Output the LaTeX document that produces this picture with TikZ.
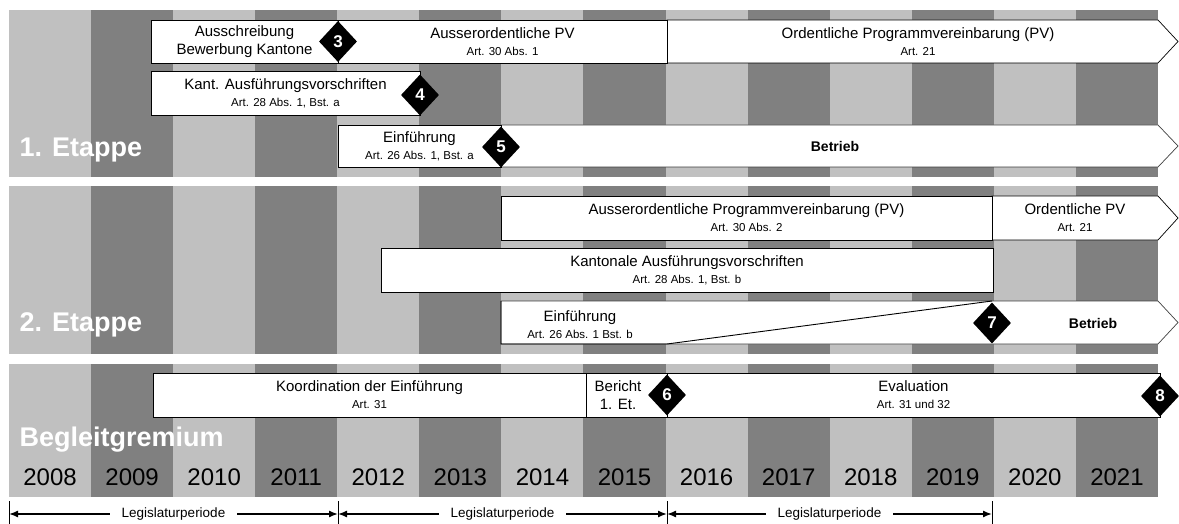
\documentclass[tikz,border=0pt]{standalone}
\usepackage{fontspec}
\setmainfont{Liberation Sans}
\usetikzlibrary{shapes.geometric,arrows.meta}

\definecolor{lightbar}{HTML}{C0C0C0}
\definecolor{darkbar}{HTML}{808080}
\newcommand\artref[1]{\\[-1pt]{\fontsize{11.5}{13}\selectfont #1}}

\tikzset{
  bar/.style={draw, fill=white, line width=0.9pt, inner sep=0pt, outer sep=0pt,
    minimum height=43pt, align=center, font=\fontsize{15}{18}\selectfont},
  flow/.style={draw=black!75, fill=white, line width=0.7pt},
  flowtext/.style={align=center, font=\fontsize{15}{18}\selectfont},
  marker/.style={diamond, fill=black, text=white, inner sep=0pt,
    minimum width=38pt, minimum height=41pt, font=\bfseries\fontsize{17}{17}\selectfont},
  stage/.style={anchor=west, text=white, font=\bfseries\fontsize{27}{27}\selectfont},
  year/.style={font=\fontsize{24}{24}\selectfont},
  period/.style={{Latex[length=9pt,width=7pt]}-{Latex[length=9pt,width=7pt]}, line width=1.4pt},
  plabel/.style={fill=white, inner xsep=12pt, inner ysep=1pt, font=\fontsize{13.5}{15}\selectfont}
}

\begin{document}
\begin{tikzpicture}[x=1pt,y=-1pt]
  \useasboundingbox (0,0) rectangle (1179,524);

  % year columns
  \foreach \yr [count=\i from 0] in {2008,...,2021}{
    \ifodd\i \def\colbar{darkbar}\else\def\colbar{lightbar}\fi
    \fill[\colbar] (9+82.07*\i,10) rectangle ++(82.07,487);
    \node[year] (y\yr) at (50.04+82.07*\i,477) {\yr};
  }
  \fill[white] (0,177) rectangle (1179,186);
  \fill[white] (0,354) rectangle (1179,364);

  % 1. Etappe
  \draw[flow, draw=black] (667,20) -- (1158,20) -- (1178,41.5) -- (1158,63) -- (667,63) -- cycle;
  \node[flowtext] (ordpv1) at (918,41.5) {Ordentliche Programmvereinbarung (PV)\artref{Art. 21}};
  \node[bar, minimum width=329pt] (auspv1) at (502.5,41.5) {Ausserordentliche PV\artref{Art. 30 Abs. 1}};
  \node[bar, minimum width=187pt] (ausschr) at (244.5,41.5) {Ausschreibung\\Bewerbung Kantone};
  \node[bar, minimum width=269pt, minimum height=44pt] (kant1) at (285.5,93) {Kant. Ausführungsvorschriften\artref{Art. 28 Abs. 1, Bst. a}};
  \draw[flow] (501,125) -- (1158,125) -- (1178,146) -- (1158,167) -- (501,167) -- cycle;
  \node[flowtext, font=\bfseries\fontsize{14}{17}\selectfont] (betr1) at (835,146) {Betrieb};
  \node[bar, minimum width=163pt, minimum height=42pt] (einf1) at (419.5,146) {Einführung\artref{Art. 26 Abs. 1, Bst. a}};
  \node[stage] (et1) at (16,150) {1. Etappe};

  % 2. Etappe
  \draw[flow, draw=black] (992,196) -- (1158,196) -- (1178,218) -- (1158,240) -- (992,240) -- cycle;
  \node[flowtext] (ordpv2) at (1075,218) {Ordentliche PV\artref{Art. 21}};
  \node[bar, minimum width=491pt, minimum height=44pt] (auspv2) at (746.5,218) {Ausserordentliche Programmvereinbarung (PV)\artref{Art. 30 Abs. 2}};
  \node[bar, minimum width=612pt, minimum height=44pt] (kant2) at (687,270) {Kantonale Ausführungsvorschriften\artref{Art. 28 Abs. 1, Bst. b}};
  \draw[flow] (501,301) -- (1158,301) -- (1178,322.5) -- (1158,344) -- (501,344) -- cycle;
  \draw[line width=0.9pt] (501,301) -- (501,344) -- (667,344) -- (992,301);
  \node[flowtext] (einf2) at (580,325) {Einführung\artref{Art. 26 Abs. 1 Bst. b}};
  \node[flowtext, font=\bfseries\fontsize{14}{17}\selectfont] (betr2) at (1093,323) {Betrieb};
  \node[stage] (et2) at (16,325) {2. Etappe};

  % Begleitgremium
  \node[bar, minimum width=433pt, minimum height=44pt] (koord) at (369.5,395) {Koordination der Einführung\artref{Art. 31}};
  \node[bar, minimum width=81pt, minimum height=44pt] (bericht) at (626.5,395) {};
  \node[flowtext] (berichttext) at (618,395) {Bericht\\1. Et.};
  \node[bar, minimum width=493pt, minimum height=44pt] (eval) at (913.5,395) {Evaluation\artref{Art. 31 und 32}};
  \node[stage] (bg) at (16,440) {Begleitgremium};

  % milestones
  \node[marker] (m3) at (338,41.5) {3};
  \node[marker] (m4) at (420,95) {4};
  \node[marker] (m5) at (501,147) {5};
  \node[marker] (m6) at (667,395) {6};
  \node[marker] (m7) at (992,323) {7};
  \node[marker] (m8) at (1160,396) {8};

  % Legislaturperioden
  \coordinate (l0) at (9,514);
  \coordinate (l1) at (338,514);
  \coordinate (l2) at (667,514);
  \coordinate (l3) at (992,514);
  \foreach \c in {l0,l1,l2,l3}
    \draw[line width=0.9pt] ([yshift=13pt]\c) -- ([yshift=-10pt]\c);
  \draw[period] (l0) -- node[plabel] {Legislaturperiode} (l1);
  \draw[period] (l1) -- node[plabel] {Legislaturperiode} (l2);
  \draw[period] (l2) -- node[plabel] {Legislaturperiode} (l3);

\end{tikzpicture}
\end{document}
